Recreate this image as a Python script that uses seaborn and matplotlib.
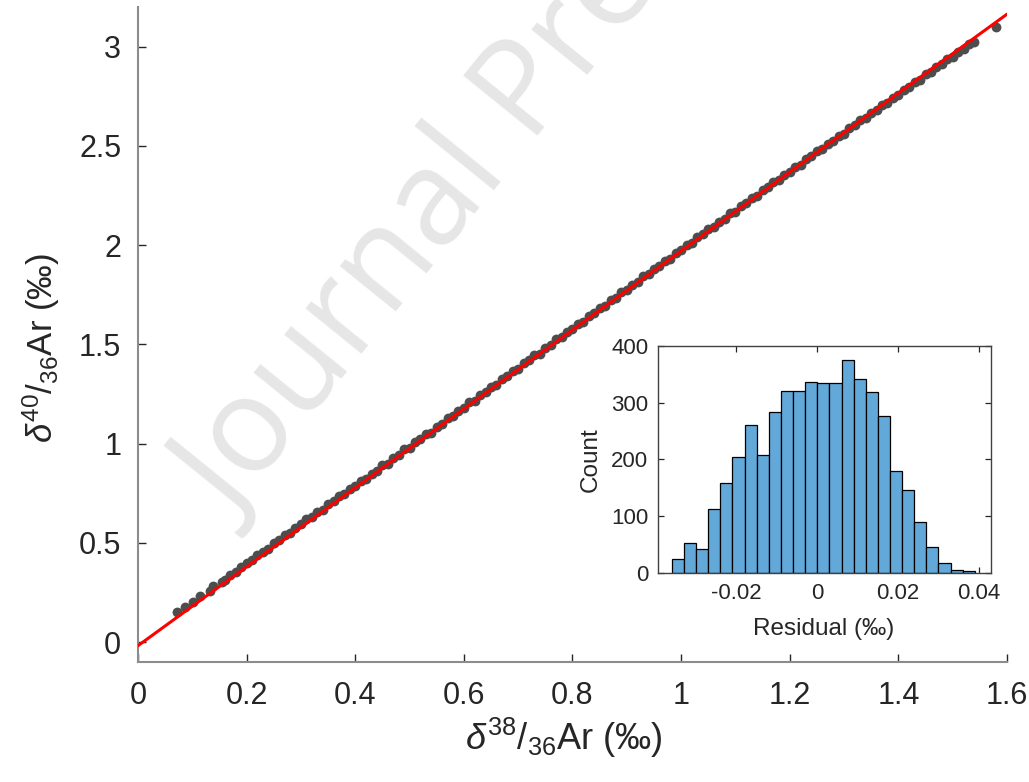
import numpy as np
import pandas as pd
import matplotlib
matplotlib.use("Agg")
from matplotlib import pyplot as plt
import seaborn as sns

d38 = [0.071, 0.087, 0.101, 0.115, 0.133, 0.138, 0.154, 0.160,
       0.17, 0.18, 0.19, 0.20, 0.21, 0.22, 0.23, 0.24, 0.25, 0.26,
       0.27, 0.28, 0.29, 0.30, 0.31, 0.32, 0.33, 0.34, 0.35, 0.36,
       0.37, 0.38, 0.39, 0.40, 0.41, 0.42, 0.43, 0.44, 0.45, 0.46,
       0.47, 0.48, 0.49, 0.50, 0.51, 0.52, 0.53, 0.54, 0.55, 0.56,
       0.57, 0.58, 0.59, 0.60, 0.61, 0.62, 0.63, 0.64, 0.65, 0.66,
       0.67, 0.68, 0.69, 0.70, 0.71, 0.72, 0.73, 0.74, 0.75, 0.76,
       0.77, 0.78, 0.79, 0.80, 0.81, 0.82, 0.83, 0.84, 0.85, 0.86,
       0.87, 0.88, 0.89, 0.90, 0.91, 0.92, 0.93, 0.94, 0.95, 0.96,
       0.97, 0.98, 0.99, 1.00, 1.01, 1.02, 1.03, 1.04, 1.05, 1.06,
       1.07, 1.08, 1.09, 1.10, 1.11, 1.12, 1.13, 1.14, 1.15, 1.16,
       1.17, 1.18, 1.19, 1.20, 1.21, 1.22, 1.23, 1.24, 1.25, 1.26,
       1.27, 1.28, 1.29, 1.30, 1.31, 1.32, 1.33, 1.34, 1.35, 1.36,
       1.37, 1.38, 1.39, 1.40, 1.41, 1.42, 1.43, 1.44, 1.45, 1.46,
       1.47, 1.48, 1.49, 1.50, 1.51, 1.52, 1.53, 1.54, 1.58]
d40 = [0.150, 0.175, 0.200, 0.233, 0.259, 0.281, 0.301, 0.314,
       0.339, 0.355, 0.381, 0.397, 0.413, 0.439, 0.455, 0.470, 0.497, 0.513,
       0.538, 0.549, 0.575, 0.593, 0.618, 0.630, 0.654, 0.667, 0.695, 0.710,
       0.734, 0.747, 0.772, 0.789, 0.812, 0.821, 0.849, 0.864, 0.891, 0.899,
       0.929, 0.944, 0.971, 0.979, 1.008, 1.023, 1.050, 1.056, 1.086, 1.101,
       1.130, 1.137, 1.167, 1.182, 1.208, 1.217, 1.245, 1.261, 1.287, 1.294,
       1.325, 1.341, 1.367, 1.377, 1.404, 1.419, 1.445, 1.452, 1.482, 1.498,
       1.526, 1.535, 1.563, 1.579, 1.604, 1.613, 1.642, 1.658, 1.684, 1.694,
       1.722, 1.736, 1.763, 1.772, 1.800, 1.817, 1.843, 1.853, 1.881, 1.896,
       1.921, 1.931, 1.959, 1.976, 2.002, 2.010, 2.040, 2.054, 2.080, 2.091,
       2.118, 2.133, 2.160, 2.168, 2.198, 2.214, 2.237, 2.249, 2.276, 2.291,
       2.317, 2.327, 2.354, 2.370, 2.395, 2.405, 2.432, 2.448, 2.473, 2.484,
       2.511, 2.527, 2.551, 2.562, 2.588, 2.604, 2.629, 2.640, 2.665, 2.680,
       2.706, 2.718, 2.744, 2.756, 2.782, 2.796, 2.824, 2.834, 2.861, 2.873,
       2.898, 2.911, 2.937, 2.950, 2.974, 2.988, 3.012, 3.025, 3.100]

# Linear fit end points
fit_d38 = [0.0, 1.6]
fit_d40 = [-0.018, 3.164]

# Residual histogram
bin_edges = [-0.036, -0.033, -0.030, -0.027, -0.024, -0.021, -0.018, -0.015,
             -0.012, -0.009, -0.006, -0.003, 0.0, 0.003, 0.006, 0.009, 0.012,
             0.015, 0.018, 0.021, 0.024, 0.027, 0.030, 0.033, 0.036, 0.039]
counts = [24, 53, 42, 112, 159, 204, 261, 207, 283, 320, 320, 337, 334,
          335, 376, 341, 318, 277, 180, 146, 89, 46, 18, 6, 3]

x_ticks = [0, 0.2, 0.4, 0.6, 0.8, 1.0, 1.2, 1.4, 1.6]
x_tick_labels = ["0", "0.2", "0.4", "0.6", "0.8", "1", "1.2", "1.4", "1.6"]
y_ticks = [0, 0.5, 1.0, 1.5, 2.0, 2.5, 3.0]
y_tick_labels = ["0", "0.5", "1", "1.5", "2", "2.5", "3"]
hx_ticks = [-0.02, 0, 0.02, 0.04]
hx_tick_labels = ["-0.02", "0", "0.02", "0.04"]
hy_ticks = [0, 100, 200, 300, 400]

TEXT = "#262626"

sns.set_theme(style="ticks")
plt.rcParams["font.family"] = ["Liberation Sans", "DejaVu Sans"]
plt.rcParams["mathtext.fontset"] = "custom"
plt.rcParams["mathtext.rm"] = "Liberation Sans"
plt.rcParams["mathtext.it"] = "Liberation Sans:italic"
plt.rcParams["xtick.direction"] = "in"
plt.rcParams["ytick.direction"] = "in"

fig = plt.figure(figsize=(10.29, 7.82), dpi=100)
ax = fig.add_axes([0.1341, 0.1535, 0.8445, 0.8375])
ax.set_facecolor("none")

# watermark behind the data
ax.text(0.228, 0.330, "Journal Pre-proof", transform=fig.transFigure,
        rotation=51, rotation_mode="anchor", ha="left", va="baseline",
        fontsize=96, family="Open Sans", color="#e6e6e6", zorder=0.5,
        clip_on=False)

sns.scatterplot(x=d38, y=d40, ax=ax, color="#4d4d4d", s=50, linewidth=0,
                zorder=2)
sns.lineplot(x=fit_d38, y=fit_d40, ax=ax, color="red", lw=2.2, zorder=3)

ax.set_xlim(0, 1.6)
ax.set_ylim(-0.1, 3.2)
ax.set_xticks(x_ticks)
ax.set_xticklabels(x_tick_labels)
ax.set_yticks(y_ticks)
ax.set_yticklabels(y_tick_labels)
ax.tick_params(labelsize=22, colors=TEXT, length=6, width=1.0, pad=12)
ax.tick_params(axis="x", pad=14)
for t in ax.get_xticklines() + ax.get_yticklines():
    t.set_color("#808080")
for s in ["top", "right"]:
    ax.spines[s].set_visible(False)
for s in ["left", "bottom"]:
    ax.spines[s].set_color("#8c8c8c")
    ax.spines[s].set_linewidth(1.5)

ax.set_xlabel(r"$\delta^{38}/_{36}$Ar (‰)", fontsize=26, color=TEXT)
ax.set_ylabel(r"$\delta^{40}/_{36}$Ar (‰)", fontsize=25, color=TEXT)
ax.xaxis.set_label_coords(0.49, -0.082)
ax.yaxis.set_label_coords(-0.088, 0.48)

# inset: residual histogram
ax2 = fig.add_axes([0.6395, 0.2673, 0.3236, 0.2903])
centers = (np.array(bin_edges[:-1]) + np.array(bin_edges[1:])) / 2
hist_df = pd.DataFrame({"Residual": centers, "Count": counts})
sns.histplot(data=hist_df, x="Residual", weights="Count", bins=bin_edges,
             ax=ax2, color="#62a9da", edgecolor="black", linewidth=0.9,
             alpha=1.0)
ax2.set_xlim(-0.0394, 0.043)
ax2.set_ylim(0, 400)
ax2.set_xticks(hx_ticks)
ax2.set_xticklabels(hx_tick_labels)
ax2.set_yticks(hy_ticks)
ax2.tick_params(labelsize=16, colors=TEXT, length=4, width=0.9, pad=7,
                top=True, right=True)
for t in ax2.get_xticklines() + ax2.get_yticklines():
    t.set_color("#404040")
for s in ax2.spines.values():
    s.set_color("#404040")
    s.set_linewidth(1.0)
ax2.set_xlabel("Residual (‰)", fontsize=17.5, color=TEXT)
ax2.set_ylabel("Count", fontsize=17.5, color=TEXT)
ax2.xaxis.set_label_coords(0.498, -0.2)
ax2.yaxis.set_label_coords(-0.17, 0.5)

fig.savefig("out.png", dpi=100)
